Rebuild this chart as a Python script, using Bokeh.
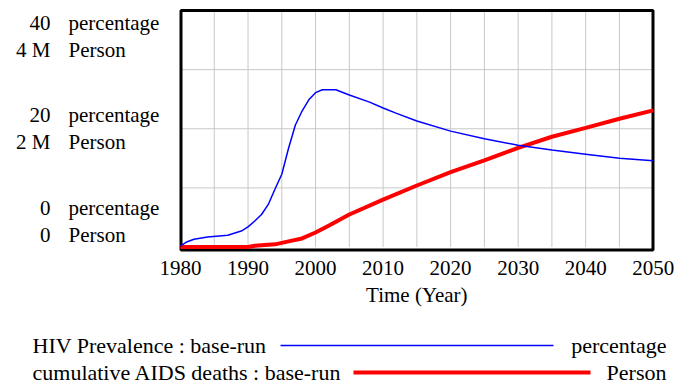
from bokeh.plotting import figure
from bokeh.models import Range1d
from bokeh.core.properties import value
from bokeh.embed import file_html
from bokeh.resources import INLINE

# HIV prevalence (percentage), base run
hiv_years = [1980, 1981, 1982, 1984, 1987, 1989, 1990, 1991, 1992, 1993, 1994,
             1995, 1996, 1997, 1998, 1999, 2000, 2001, 2003, 2005, 2008, 2010,
             2012, 2015, 2020, 2025, 2030, 2035, 2040, 2045, 2050]
hiv_prevalence = [0.2, 0.9, 1.3, 1.7, 2.0, 2.7, 3.4, 4.4, 5.5, 7.2, 9.8,
                  12.3, 16.7, 20.6, 23.0, 24.9, 26.1, 26.6, 26.6, 25.7, 24.5, 23.5,
                  22.6, 21.3, 19.6, 18.3, 17.2, 16.4, 15.7, 15.0, 14.6]

# Cumulative AIDS deaths (Person), base run
death_years = [1980, 1985, 1990, 1991, 1994, 1996, 1998, 2000, 2002, 2005, 2010,
               2015, 2020, 2025, 2030, 2035, 2040, 2045, 2050]
cumulative_deaths = [0, 0, 0, 20000, 45000, 95000, 145000, 245000, 365000, 550000, 800000,
                     1040000, 1265000, 1465000, 1675000, 1865000, 2015000, 2170000, 2310000]

# Axis ticks and labels
year_ticks = [1980, 1990, 2000, 2010, 2020, 2030, 2040, 2050]
grid_years = list(range(1980, 2051, 5))
pct_grid = [10, 20, 30]
pct_ticks = [40, 20, 0]
pct_tick_labels = ["40", "20", "0"]
person_ticks = [4000000, 2000000, 0]
person_tick_labels = ["4 M", "2 M", "0"]

FONT = "Liberation Serif"
BLUE = "#0000ff"
RED = "#ff0000"
GRID = "#c8c8c8"

# Page geometry: where the plotting box sits on the 678x385 canvas
W, H = 678, 385
X_L, X_R = 180.0, 652.7      # pixel columns of 1980 and 2050
Y_0, Y_40 = 246.5, 10.0      # pixel rows of 0 % and 40 %
PERSON_PER_PCT = 100000      # 40 % <-> 4 M Person
TEXT_LIFT = 7.5              # baseline correction for the text glyphs


def dx(px):
    return 1980 + (px - X_L) * 70 / (X_R - X_L)


def dy(py):
    return (Y_0 - py) * 40 / (Y_0 - Y_40)


def ty(py):
    # data y for a text baseline at pixel row py
    return dy(py - TEXT_LIFT)


def row_px(pct):
    return Y_0 - pct * (Y_0 - Y_40) / 40


p = figure(width=W, height=H,
           x_range=Range1d(dx(0), dx(W)), y_range=Range1d(dy(H), dy(0)),
           output_backend="svg", toolbar_location=None, min_border=0,
           x_axis_location=None, y_axis_location=None)
p.extra_y_ranges = {"person": Range1d(dy(H) * PERSON_PER_PCT, dy(0) * PERSON_PER_PCT)}
p.grid.visible = False
p.outline_line_color = None

txt = dict(text_font=value(FONT), text_color="black", text_baseline="alphabetic")

# Grid lines
p.segment(x0=grid_years, x1=grid_years, y0=[0] * len(grid_years), y1=[40] * len(grid_years),
          line_color=GRID, line_width=1)
p.segment(x0=[1980] * len(pct_grid), x1=[2050] * len(pct_grid), y0=pct_grid, y1=pct_grid,
          line_color=GRID, line_width=1)

# Plot box
p.quad(left=[dx(180.5)], right=[dx(652.5)], bottom=[dy(249.5)], top=[40],
       fill_color=None, line_color="black", line_width=3)

# Series
p.line(death_years, cumulative_deaths, line_color=RED, line_width=4,
       y_range_name="person")
p.line(hiv_years, hiv_prevalence, line_color=BLUE, line_width=1.5)

# Time axis labels
p.text(x=year_ticks, y=[ty(275)] * len(year_ticks), text=[str(t) for t in year_ticks],
       text_font_size="21px", text_align="center", **txt)
p.text(x=[(1980 + 2050) / 2], y=[ty(302)], text=["Time (Year)"],
       text_font_size="21px", text_align="center", **txt)

# Stacked left-hand scale labels (value + unit for each series)
group_shift = [20, -6.5, -31.5]
row_gap = 27
pct_y = [ty(row_px(t) + s) for t, s in zip(pct_ticks, group_shift)]
person_y = [ty(row_px(pt / PERSON_PER_PCT) + s + row_gap) * PERSON_PER_PCT
            for pt, s in zip(person_ticks, group_shift)]
p.text(x=[dx(50)] * 3, y=pct_y, text=pct_tick_labels, text_font_size="21px",
       text_align="right", **txt)
p.text(x=[dx(68)] * 3, y=pct_y, text=["percentage"] * 3, text_font_size="21px",
       text_align="left", **txt)
p.text(x=[dx(50)] * 3, y=person_y, text=person_tick_labels, text_font_size="21px",
       text_align="right", y_range_name="person", **txt)
p.text(x=[dx(68)] * 3, y=person_y, text=["Person"] * 3, text_font_size="21px",
       text_align="left", y_range_name="person", **txt)

# Legend block below the chart
leg_names = ["HIV Prevalence : base-run", "cumulative AIDS deaths : base-run"]
leg_units = ["percentage", "Person"]
leg_base = [ty(352), ty(379)]
p.text(x=[dx(32)] * 2, y=leg_base, text=leg_names, text_font_size="22px",
       text_align="left", **txt)
p.text(x=[dx(666)] * 2, y=leg_base, text=leg_units, text_font_size="22px",
       text_align="right", **txt)
p.segment(x0=[dx(280), dx(353)], x1=[dx(553), dx(590)],
          y0=[dy(345), dy(372)], y1=[dy(345), dy(372)],
          line_color=[BLUE, RED], line_width=[1.5, 4])

open("out.html", "w").write(file_html(p, INLINE))
